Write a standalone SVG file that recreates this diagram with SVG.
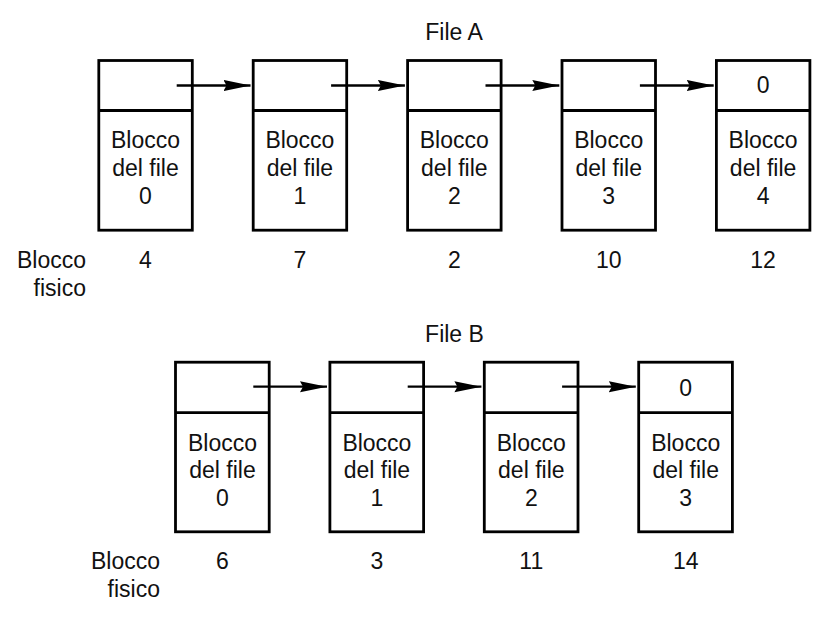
<svg xmlns="http://www.w3.org/2000/svg" width="832" height="621" viewBox="0 0 832 621">
<defs>
<style>
.box{fill:none;stroke:#000;stroke-width:2.8}
.t{font-family:"Liberation Sans",Arial,Helvetica,sans-serif;font-size:23px;fill:#111;text-anchor:middle}
.r{text-anchor:end}
.c{stroke:#000;stroke-width:2.3;fill:none;marker-end:url(#ah)}
</style>
<marker id="ah" markerUnits="userSpaceOnUse" markerWidth="30" markerHeight="14" refX="27" refY="6" orient="auto" viewBox="0 0 30 14">
<path d="M0,0.5 L27,6 L0,11.5 L3,6 Z" fill="#000"/>
</marker>
</defs>
<rect width="832" height="621" fill="#fff"/>

<text class="t" x="454" y="40">File A</text>
<text class="t" x="454.5" y="341.5">File B</text>

<g id="labelA">
<text class="t r" x="86" y="268">Blocco</text>
<text class="t r" x="86" y="296">fisico</text>
</g>
<g id="labelB">
<text class="t r" x="160" y="569">Blocco</text>
<text class="t r" x="160" y="597">fisico</text>
</g>

<g id="A0">
<rect class="box" x="98.8" y="60.5" width="93.5" height="169.7"/>
<line class="box" x1="98.8" y1="110.5" x2="192.3" y2="110.5"/>
<text class="t" x="145.5" y="148">Blocco</text>
<text class="t" x="145.5" y="176">del file</text>
<text class="t" x="145.5" y="204">0</text>
<text class="t" x="145.5" y="268">4</text>
</g>
<g id="A1">
<rect class="box" x="253.2" y="60.5" width="93.5" height="169.7"/>
<line class="box" x1="253.2" y1="110.5" x2="346.7" y2="110.5"/>
<text class="t" x="299.9" y="148">Blocco</text>
<text class="t" x="299.9" y="176">del file</text>
<text class="t" x="299.9" y="204">1</text>
<text class="t" x="299.9" y="268">7</text>
</g>
<g id="A2">
<rect class="box" x="407.6" y="60.5" width="93.5" height="169.7"/>
<line class="box" x1="407.6" y1="110.5" x2="501.1" y2="110.5"/>
<text class="t" x="454.3" y="148">Blocco</text>
<text class="t" x="454.3" y="176">del file</text>
<text class="t" x="454.3" y="204">2</text>
<text class="t" x="454.3" y="268">2</text>
</g>
<g id="A3">
<rect class="box" x="562" y="60.5" width="93.5" height="169.7"/>
<line class="box" x1="562" y1="110.5" x2="655.5" y2="110.5"/>
<text class="t" x="608.7" y="148">Blocco</text>
<text class="t" x="608.7" y="176">del file</text>
<text class="t" x="608.7" y="204">3</text>
<text class="t" x="608.7" y="268">10</text>
</g>
<g id="A4">
<rect class="box" x="716.4" y="60.5" width="93.5" height="169.7"/>
<line class="box" x1="716.4" y1="110.5" x2="809.9" y2="110.5"/>
<text class="t" x="763.1" y="92.5">0</text>
<text class="t" x="763.1" y="148">Blocco</text>
<text class="t" x="763.1" y="176">del file</text>
<text class="t" x="763.1" y="204">4</text>
<text class="t" x="763.1" y="268">12</text>
</g>

<g id="B0">
<rect class="box" x="175.5" y="362.2" width="93.7" height="169.6"/>
<line class="box" x1="175.5" y1="412.7" x2="269.2" y2="412.7"/>
<text class="t" x="222.5" y="450.5">Blocco</text>
<text class="t" x="222.5" y="478">del file</text>
<text class="t" x="222.5" y="505.5">0</text>
<text class="t" x="222.5" y="569">6</text>
</g>
<g id="B1">
<rect class="box" x="329.9" y="362.2" width="93.7" height="169.6"/>
<line class="box" x1="329.9" y1="412.7" x2="423.6" y2="412.7"/>
<text class="t" x="376.9" y="450.5">Blocco</text>
<text class="t" x="376.9" y="478">del file</text>
<text class="t" x="376.9" y="505.5">1</text>
<text class="t" x="376.9" y="569">3</text>
</g>
<g id="B2">
<rect class="box" x="484.3" y="362.2" width="93.7" height="169.6"/>
<line class="box" x1="484.3" y1="412.7" x2="578" y2="412.7"/>
<text class="t" x="531.3" y="450.5">Blocco</text>
<text class="t" x="531.3" y="478">del file</text>
<text class="t" x="531.3" y="505.5">2</text>
<text class="t" x="531.3" y="569">11</text>
</g>
<g id="B3">
<rect class="box" x="638.7" y="362.2" width="93.7" height="169.6"/>
<line class="box" x1="638.7" y1="412.7" x2="732.4" y2="412.7"/>
<text class="t" x="685.7" y="395.5">0</text>
<text class="t" x="685.7" y="450.5">Blocco</text>
<text class="t" x="685.7" y="478">del file</text>
<text class="t" x="685.7" y="505.5">3</text>
<text class="t" x="685.7" y="569">14</text>
</g>

<g id="connectors">
<line class="c" x1="176.7" y1="85.5" x2="250.5" y2="85.5"/>
<line class="c" x1="331.1" y1="85.5" x2="404.9" y2="85.5"/>
<line class="c" x1="485.5" y1="85.5" x2="559.3" y2="85.5"/>
<line class="c" x1="639.9" y1="85.5" x2="713.7" y2="85.5"/>
<line class="c" x1="253.3" y1="386.7" x2="327" y2="386.7"/>
<line class="c" x1="407.7" y1="386.7" x2="481.4" y2="386.7"/>
<line class="c" x1="562.1" y1="386.7" x2="635.8" y2="386.7"/>
</g>
</svg>
